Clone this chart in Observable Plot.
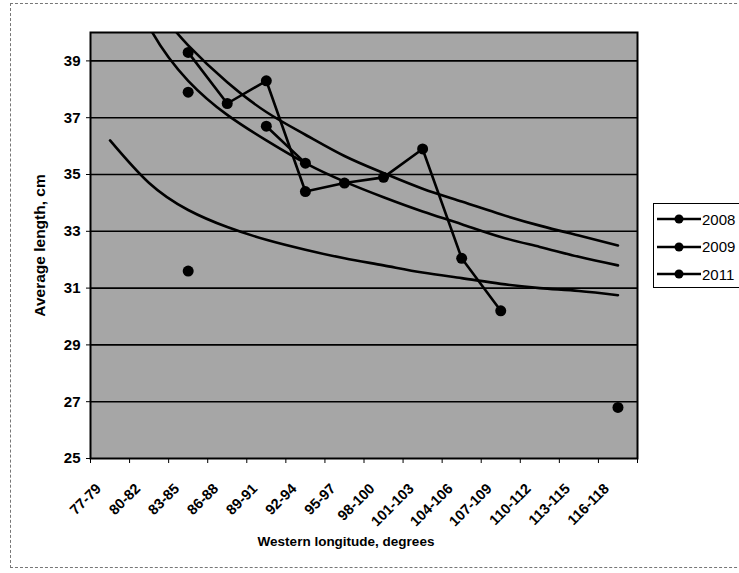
<!DOCTYPE html>
<html><head><meta charset="utf-8">
<script src="https://cdn.jsdelivr.net/npm/d3@7"></script>
<script src="https://cdn.jsdelivr.net/npm/@observablehq/plot@0.6"></script>
<style>
body{margin:0;background:#fff;font-family:"Liberation Sans",Arial,sans-serif;}
#wrap{position:relative;width:739px;height:573px;overflow:hidden;}
#border{position:absolute;left:10px;top:3px;width:780px;height:563px;border:1px dashed #777;}
#chart{position:absolute;left:0;top:0;}
#legend{position:absolute;left:653px;top:203px;width:110px;height:83px;border:1px solid #000;background:#fff;}
.li{position:absolute;left:3px;height:22px;display:flex;align-items:center;font-size:15px;color:#000;}
.li span{margin-left:1px;}
</style>
</head><body>
<div id="wrap"><div id="border"></div><div id="chart"></div><div id="legend"></div></div>
<script>
const categories = ["77-79","80-82","83-85","86-88","89-91","92-94","95-97","98-100","101-103","104-106","107-109","110-112","113-115","116-118"];
const seriesNames = ["2008","2009","2011"];
const values2008 = [null,null,39.3,37.5,38.3,34.4,34.7,34.9,35.9,32.05,30.2,null,null,null];
const values2009 = [null,null,37.9,null,36.7,35.4,null,null,null,null,null,null,null,null];
const values2011 = [null,null,31.6,null,null,null,null,null,null,null,null,null,null,26.8];
// trend curves (parts above 40 are clipped off)
const trend2008 = [44.6,41.4,39.55,38.25,37.2,36.4,35.65,35.05,34.5,34.05,33.6,33.2,32.85,32.5];
const trend2009 = [43.2,40.2,38.3,37.1,36.2,35.4,34.75,34.2,33.7,33.25,32.8,32.45,32.1,31.8];
const trend2011 = [36.2,34.7,33.75,33.15,32.7,32.35,32.05,31.8,31.55,31.35,31.15,31.0,30.9,30.75];
const yTicks = [25,27,29,31,33,35,37,39];

const toRows = arr => arr.map((v,i)=>({x:i+1, y:v}));
const pts = [values2008, values2009, values2011].map(toRows);
const trends = [trend2008, trend2009, trend2011].map(toRows);
const boundaries = d3.range(0.5, 15, 1);

const lineMarks = pts.map(rows => Plot.line(rows, {x:"x", y:"y", stroke:"#000", strokeWidth:2.6}));
const dotMarks = pts.map(rows => Plot.dot(rows.filter(d=>d.y!=null), {x:"x", y:"y", r:5.5, fill:"#000", stroke:"none"}));
const trendMarks = trends.map(rows => Plot.line(rows, {x:"x", y:"y", stroke:"#000", strokeWidth:2.6, curve:"natural", clip:true}));

const chart = Plot.plot({
  width: 739, height: 573,
  marginLeft: 90, marginRight: 102, marginTop: 32, marginBottom: 115,
  x: {type:"linear", domain:[0.5,14.5], axis:null},
  y: {domain:[25,40], axis:null},
  style: {background:"transparent", fontFamily:"'Liberation Sans', Arial, sans-serif", color:"#000"},
  marks: [
    Plot.frame({fill:"#a6a6a6", stroke:"none"}),
    Plot.ruleY(yTicks.slice(1), {stroke:"#000", strokeWidth:1.6}),
    ...trendMarks,
    ...lineMarks,
    ...dotMarks,
    Plot.frame({stroke:"#000", strokeWidth:2}),
    Plot.axisY({ticks:yTicks, tickSize:4, tickPadding:6, fontSize:15, fontWeight:"bold", label:null, stroke:"#000"}),
    Plot.axisX({ticks:boundaries, tickSize:5, tickFormat:()=>"", label:null, stroke:"#000"}),
    Plot.text(categories, {x:(d,i)=>i+1, y:()=>25, text:d=>d, rotate:-45, textAnchor:"end", lineAnchor:"bottom", dx:-8, dy:31, fontSize:14.5, fontWeight:"bold", fill:"#000"}),
    Plot.text(["Western longitude, degrees"], {frameAnchor:"bottom", text:d=>d, dx:-18, dy:87, lineAnchor:"bottom", textAnchor:"middle", fontSize:13.5, fontWeight:"bold", fill:"#000"}),
    Plot.text(["Average length, cm"], {frameAnchor:"left", text:d=>d, rotate:-90, dx:-46, lineAnchor:"bottom", textAnchor:"middle", fontSize:15.5, fontWeight:"bold", fill:"#000"})
  ]
});
document.getElementById("chart").appendChild(chart);

const legend = document.getElementById("legend");
seriesNames.forEach((name, i) => {
  const div = document.createElement("div");
  div.className = "li";
  div.style.top = (4 + i*27.5) + "px";
  div.innerHTML = `<svg width="44" height="12"><line x1="0" y1="6" x2="44" y2="6" stroke="#000" stroke-width="2.4"/><circle cx="22" cy="6" r="4.5" fill="#000"/></svg><span>${name}</span>`;
  legend.appendChild(div);
});
</script>
</body></html>
